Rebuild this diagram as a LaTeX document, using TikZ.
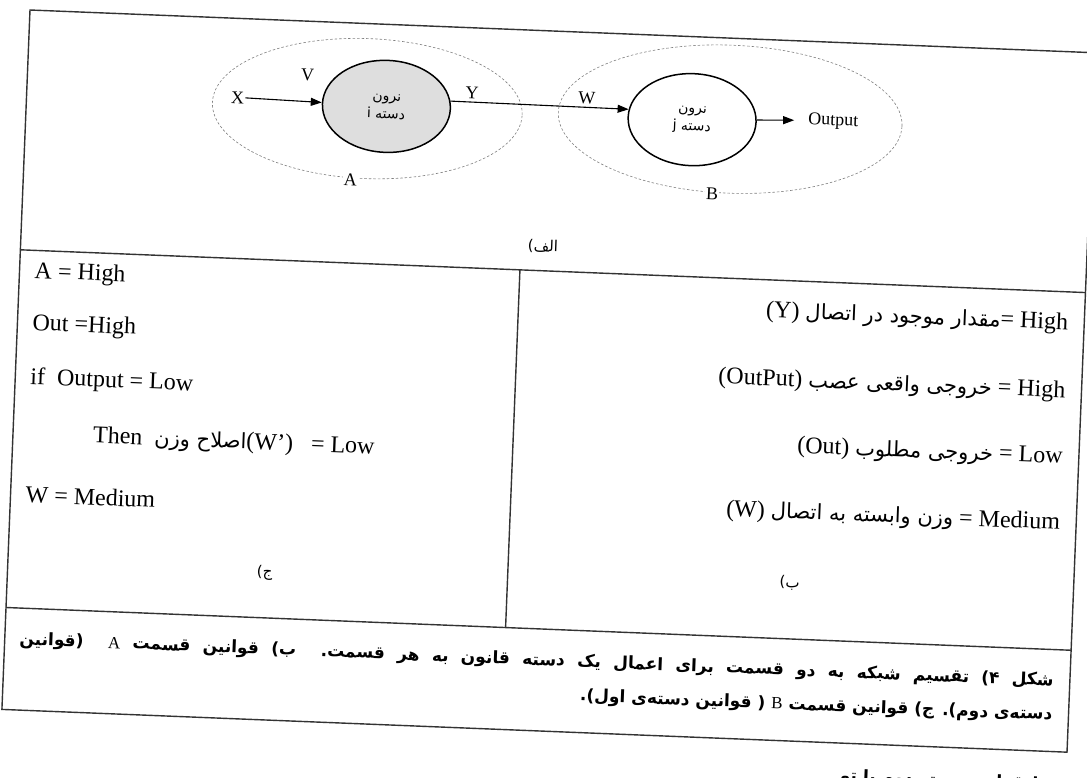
\documentclass[tikz,border=0pt]{standalone}
\usepackage{fontspec}
\setmainfont{Liberation Serif}
\newfontfamily\fa[Script=Arabic]{DejaVu Sans}
\TeXXeTstate=1
\usetikzlibrary{shapes.geometric,arrows.meta}
\tikzset{
  frame/.style={line width=1.4pt,black!80},
  zone/.style={ellipse,draw=black!50,line width=0.6pt,dash pattern=on 2.5pt off 2pt},
  neuron/.style={ellipse,draw,line width=1.5pt,minimum width=128,minimum height=92,
    align=center,inner sep=0pt,font=\fa\fontsize{14}{18}\selectfont},
  sig/.style={line width=1.1pt,-{Triangle[length=11pt,width=8pt]}},
  lbl/.style={font=\fontsize{18}{20}\selectfont,inner sep=1pt},
  leftrow/.style={anchor=west,inner sep=0pt,font=\fontsize{24}{28}\selectfont},
  rightrow/.style={anchor=east,inner sep=0pt,font=\fontsize{24}{28}\selectfont},
  figcap/.style={anchor=east,inner sep=0pt,font=\fa\bfseries\fontsize{17}{20}\selectfont}
}
\newcommand\pers[1]{{\fa\fontsize{21}{25}\selectfont\beginR #1\endR}}
\begin{document}
\begin{tikzpicture}[x=1pt,y=-1pt]
\useasboundingbox[fill=white] (0,0) rectangle (1087,777);
\begin{scope}[shift={(30,10)},rotate=-2.3,transform shape]
  % table lines
  \draw[frame] (0,0) rectangle (1066,700);
  \draw[frame] (0,240) -- (1066,240);
  \draw[frame] (500,240) -- (500,598);
  \draw[frame] (0,598) -- (1066,598);

  % part alef: the two groups
  \node[zone,minimum width=310,minimum height=140] (za) at (341,85) {};
  \node[zone,minimum width=344,minimum height=148] (zb) at (704,81) {};
  \node[neuron,fill=black!13] (ni) at (360,82) {نرون\\\beginR دسته i\endR};
  \node[neuron] (nj) at (666,83) {نرون\\\beginR دسته j\endR};
  \node[lbl] (x) at (211,79) {X};
  \node[lbl,anchor=west,inner sep=0pt] (out) at (782,79) {Output};
  \draw[sig] (x) -- (ni);
  \draw[sig] (ni.7) -- (nj.173);
  \draw[sig,shorten >=14pt] (nj) -- (out.west);
  \node[lbl] (v) at (280,54) {V};
  \node[lbl] (y) at (445,65) {Y};
  \node[lbl] (w) at (560,66) {W};
  \node[lbl,fill=white] (a) at (327,157) {A};
  \node[lbl,fill=white] (b) at (689,156) {B};
  \node[font=\fa\fontsize{15}{18}\selectfont] (alef) at (522,216) {\beginR الف)\endR};

  % part jim (left)
  \node[leftrow] (r1) at (15,262) {A = High};
  \node[leftrow] (r2) at (15,314) {Out =High};
  \node[leftrow] (r3) at (15,368) {if\ \ Output = Low};
  \node[leftrow] (r4) at (80,424) {Then\ \ \pers{اصلاح وزن}(W')\ \ \ = Low};
  \node[leftrow] (r5) at (15,484) {W = Medium};
  \node[font=\fa\fontsize{15}{18}\selectfont] (jim) at (257,553) {\beginR ج)\endR};

  % part be (right)
  \node[rightrow] (s1) at (1050,272) {(Y) \pers{مقدار موجود در اتصال}= High};
  \node[rightrow] (s2) at (1050,340) {(OutPut) \pers{خروجی واقعی عصب} = High};
  \node[rightrow] (s3) at (1050,406) {(Out) \pers{خروجی مطلوب} = Low};
  \node[rightrow] (s4) at (1050,472) {(W) \pers{وزن وابسته به اتصال} = Medium};
  \node[font=\fa\fontsize{15}{18}\selectfont] (be) at (782,542) {\beginR ب)\endR};

  % caption
  \node[figcap] (c1) at (1050,630) {\hbox to 1035pt{\beginR شکل ۴) تقسیم شبکه به دو قسمت برای اعمال یک دسته قانون به هر قسمت.\ \ ب) قوانین قسمت \beginL{\rmfamily\mdseries A}\endL\ \ (قوانین\endR}};
  \node[figcap] (c2) at (1050,664) {\beginR دسته‌ی دوم). ج) قوانین قسمت \beginL{\rmfamily\mdseries B}\endL\ ( قوانین دسته‌ی اول).\endR};
  \node[figcap] (c3) at (1072,734) {\beginR فقط قوانین دسته دوم با تو\endR};
\end{scope}
\end{tikzpicture}
\end{document}
